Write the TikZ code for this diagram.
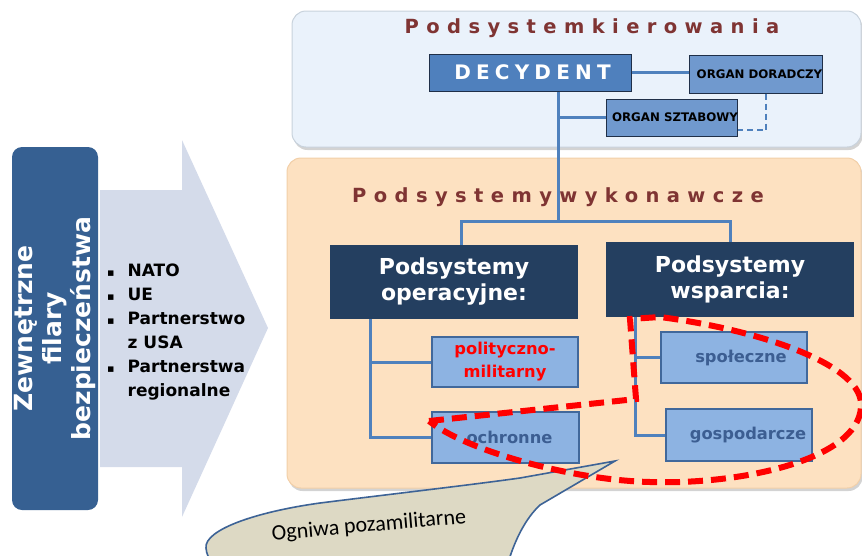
\documentclass[tikz,border=0pt]{standalone}
\usepackage{fontspec}
\setmainfont{Liberation Sans}
\newfontfamily\heavy[UprightFont={* Bold}]{DejaVu Sans}
\newfontfamily\callfont{Carlito}
\newfontfamily\symfont{DejaVu Sans}
\usetikzlibrary{shadows}
\definecolor{arrowfill}{HTML}{D4DBEA}
\definecolor{leftblue}{HTML}{366092}
\definecolor{topfill}{HTML}{EAF2FB}
\definecolor{topborder}{HTML}{C8D2DC}
\definecolor{orfill}{HTML}{FDE1C1}
\definecolor{orborder}{HTML}{F2CFA8}
\definecolor{titlered}{HTML}{7F3433}
\definecolor{decblue}{HTML}{4F80BD}
\definecolor{organblue}{HTML}{7099CE}
\definecolor{darkedge}{HTML}{1F2F48}
\definecolor{navy}{HTML}{243F60}
\definecolor{subfill}{HTML}{8DB3E2}
\definecolor{subedge}{HTML}{41689B}
\definecolor{subtext}{HTML}{3C5E92}
\definecolor{conncol}{HTML}{4F81BD}
\definecolor{calfill}{HTML}{DDD9C4}
\definecolor{caledge}{HTML}{3D6396}
\begin{document}
\begin{tikzpicture}[x=1pt,y=-1pt,
  bigbox/.style={rounded corners=14pt, inner sep=0pt, drop shadow={opacity=0.35, shadow xshift=1.5pt, shadow yshift=-3pt}},
  titletxt/.style={text=titlered, font=\heavy\fontsize{19.5}{22}\selectfont\addfontfeature{LetterSpace=38}},
  decbox/.style={fill=decblue, draw=darkedge, line width=1pt, inner sep=0pt},
  organbox/.style={fill=organblue, draw=darkedge, line width=1pt, inner sep=0pt, font=\heavy\fontsize{11.8}{14}\selectfont},
  headbox/.style={fill=navy, inner sep=0pt, align=center, text=white, font=\heavy\fontsize{22}{26}\selectfont},
  subbox/.style={fill=subfill, draw=subedge, line width=1.8pt, inner sep=0pt, align=center, text=subtext, font=\heavy\fontsize{16.3}{23}\selectfont},
  conn/.style={draw=conncol, line width=3pt},
  lasso/.style={draw=red, line width=6pt, dash pattern=on 15pt off 8pt}]
\useasboundingbox (0,0) rectangle (862,555);
\begin{scope}
\clip (0,0) rectangle (862,555);
% left arrow
\fill[arrowfill] (100,190) -- (182,190) -- (182,140) -- (268,328) -- (182,517) -- (182,467) -- (100,467) -- cycle;
% left label
\node[fill=leftblue, rounded corners=10pt, rotate=90, minimum width=363pt, minimum height=86pt, inner sep=0pt, align=center, text=white, font=\heavy\fontsize{25}{29}\selectfont] (side) at (55,328.5) {Zewnętrzne\\filary\\bezpieczeństwa};
% bullet list
\node[anchor=west, inner sep=0pt, font=\heavy\fontsize{17}{24}\selectfont] (list) at (107,332)
{\begin{tabular}{@{}l@{\hspace{13pt}}l@{}}
{\symfont\fontsize{11}{24}\selectfont ▪} & NATO\\
{\symfont\fontsize{11}{24}\selectfont ▪} & UE\\
{\symfont\fontsize{11}{24}\selectfont ▪} & Partnerstwo\\
 & z USA\\
{\symfont\fontsize{11}{24}\selectfont ▪} & Partnerstwa\\
 & regionalne
\end{tabular}};
% big boxes
\node[bigbox, fill=topfill, draw=topborder, line width=1pt, minimum width=569pt, minimum height=136pt] (top) at (576.5,79) {};
\node[bigbox, fill=orfill, draw=orborder, line width=1pt, minimum width=574pt, minimum height=330pt] (ora) at (574,323) {};
% top subsystem
\node[decbox, minimum width=202pt, minimum height=37pt, text=white, font=\heavy\fontsize{20}{22}\selectfont\addfontfeature{LetterSpace=26}] (dec) at (530,72.5) {\hspace*{5pt}DECYDENT};
\node[organbox, minimum width=124pt, minimum height=38pt] (dor) at (756,74) {\hspace*{7pt}ORGAN DORADCZY};
\node[organbox, minimum width=124pt, minimum height=37pt] (szt) at (672,117.5) {\hspace*{6pt}ORGAN SZTABOWY};
% headers
\node[headbox, minimum width=248pt, minimum height=74pt] (oper) at (454,282) {Podsystemy\\operacyjne:};
\node[headbox, minimum width=248pt, minimum height=75pt] (wsp) at (730,279.5) {Podsystemy\\wsparcia:};
% sub boxes
\node[subbox, minimum width=146pt, minimum height=50pt, text=red] (pol) at (505,362) {polityczno-\\militarny};
\node[subbox, minimum width=147pt, minimum height=51pt] (och) at (505.5,437.5) {\hspace*{8pt}ochronne};
\node[subbox, minimum width=146pt, minimum height=51pt] (spo) at (734,357.5) {\hspace*{14pt}społeczne};
\node[subbox, minimum width=146pt, minimum height=52pt] (gos) at (739,435) {\hspace*{18pt}gospodarcze};
% connectors
\coordinate (j1) at (558,221);
\coordinate (lo) at (370,0);
\coordinate (ro) at (635,0);
\draw[conn] (dec.east) -- (dec.east -| dor.west);
\draw[conn] (j1 |- dec.south) -- (j1);
\draw[conn] (j1 |- szt.west) -- (szt.west);
\draw[draw=conncol, line width=1.5pt, dash pattern=on 6pt off 4pt] ([xshift=10pt]dor.south) |- ([yshift=-12.5pt]szt.east);
\draw[conn] ([xshift=7pt]oper.north) |- (j1) -| (wsp.north);
\draw[conn] (lo |- oper.south) |- (och.west);
\draw[conn] (lo |- pol.west) -- (pol.west);
\draw[conn] (ro |- wsp.south) |- (gos.west);
\draw[conn] (ro |- spo.west) -- (spo.west);
% titles
\node[titletxt] (t1) at (592,28) {Podsystemkierowania};
\node[titletxt] (t2) at (558,197) {Podsystemywykonawcze};
% callout
\filldraw[fill=calfill, draw=caledge, line width=1.6pt]
  (206,548) .. controls (204,530) and (255,512) .. (320,503)
  .. controls (400,493) and (470,485) .. (520,478)
  -- (615,461) -- (540,505)
  .. controls (526,518) and (514,540) .. (506,570)
  -- (240,575) .. controls (215,570) and (207,560) .. (206,548) -- cycle;
\node[rotate=5, inner sep=0pt, font=\callfont\fontsize{22}{26}\selectfont] (cl) at (369,526) {Ogniwa pozamilitarne};
% red lasso
\draw[lasso] (429,421) -- (636,399) -- (630,319) -- (660,317)
  .. controls (760,330) and (865,365) .. (861,407)
  .. controls (858,460) and (740,485) .. (650,482)
  .. controls (570,480) and (465,450) .. (429,421);
\end{scope}
\end{tikzpicture}
\end{document}
